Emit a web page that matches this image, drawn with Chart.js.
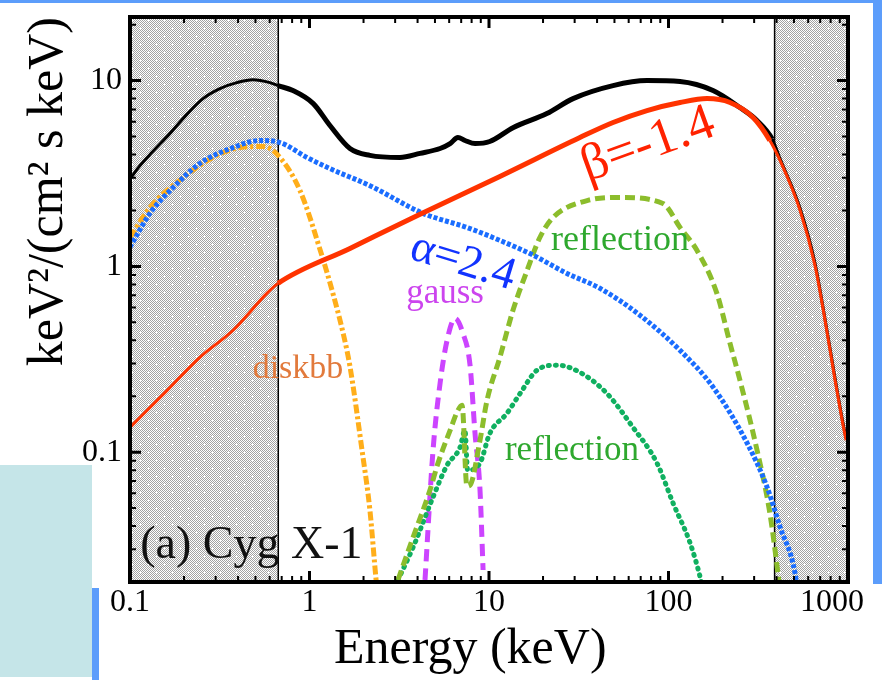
<!DOCTYPE html>
<html>
<head>
<meta charset="utf-8">
<title>Cyg X-1 spectral decomposition</title>
<script src="https://cdn.jsdelivr.net/npm/chart.js@4.4.1/dist/chart.umd.min.js"></script>
<style>
  html, body { margin: 0; padding: 0; background: #fff; }
  #spec { display: block; }
</style>
</head>
<body>
<canvas id="spec" width="882" height="680"></canvas>
<script>
// ============================
// Spectral components (energy in keV, flux in keV^2/(cm^2 s keV))
// ============================
const totalE = [0.1, 0.114, 0.134, 0.167, 0.208, 0.255, 0.317, 0.394, 0.484, 0.602, 0.668, 0.809, 1.05, 1.30, 1.68, 2.17, 3.19, 4.13, 5.34, 6.07, 6.71, 7.35, 8.36, 10.1, 13.6, 21.0, 29.4, 49.1, 75.9, 116, 177, 250, 311, 378, 418, 541, 655, 745, 847, 927, 975];
const totalF = [2.95, 3.5, 4.15, 5.2, 6.6, 8.0, 9.06, 9.75, 10.1, 9.75, 9.4, 8.84, 7.52, 5.73, 4.31, 3.96, 3.86, 4.06, 4.31, 4.58, 4.94, 4.76, 4.58, 4.70, 5.58, 6.65, 8.0, 9.4, 10.0, 9.88, 8.84, 7.16, 6.10, 4.85, 3.80, 2.05, 1.04, 0.52, 0.25, 0.152, 0.119];

const hardE = [0.1, 0.161, 0.245, 0.375, 0.579, 0.668, 1.68, 4.13, 11.5, 32.1, 49.1, 75.9, 116, 164, 220, 296, 367, 418, 541, 655, 745, 847, 927, 975];
const hardF = [0.136, 0.215, 0.324, 0.453, 0.716, 0.81, 1.25, 1.91, 3.05, 4.94, 5.95, 6.90, 7.62, 8.0, 7.62, 6.33, 4.76, 3.72, 2.00, 1.01, 0.512, 0.244, 0.149, 0.116];

const softE = [0.1, 0.129, 0.174, 0.245, 0.375, 0.530, 0.685, 0.968, 1.30, 2.17, 4.29, 7.53, 11.5, 17.6, 27.2, 41.5, 69.3, 116, 177, 274, 354, 418, 507, 530];
const softF = [1.27, 1.93, 2.66, 3.58, 4.36, 4.76, 4.64, 3.86, 3.36, 2.72, 1.93, 1.62, 1.38, 1.15, 0.916, 0.762, 0.546, 0.353, 0.224, 0.112, 0.0649, 0.0396, 0.0223, 0.016];

const diskE = [0.1, 0.129, 0.197, 0.305, 0.410, 0.551, 0.668, 0.885, 1.17, 1.35, 1.54, 1.68, 1.96, 2.17, 2.35, 2.45];
const diskF = [1.43, 2.07, 3.00, 3.96, 4.36, 4.42, 3.96, 2.56, 1.15, 0.716, 0.436, 0.29, 0.103, 0.0488, 0.0205, 0.014];

const gaussE = [4.40, 4.88, 5.34, 5.84, 6.47, 7.16, 7.84, 8.36, 8.91, 9.27];
const gaussF = [0.0205, 0.103, 0.235, 0.40, 0.525, 0.436, 0.294, 0.126, 0.0625, 0.0232];

const reflHardE = [3.11, 3.78, 4.69, 5.20, 6.07, 6.71, 7.08, 7.53, 7.84, 8.91, 9.75, 11.5, 13.6, 16.3, 19.2, 22.7, 35.2, 53.7, 93.1, 116, 144, 186, 220, 250, 311, 367, 407, 430];
const reflHardF = [0.0205, 0.0349, 0.0625, 0.0873, 0.131, 0.168, 0.179, 0.0657, 0.0665, 0.116, 0.190, 0.324, 0.580, 0.951, 1.43, 1.83, 2.26, 2.35, 2.18, 1.62, 1.22, 0.716, 0.386, 0.244, 0.103, 0.047, 0.0223, 0.014];

const reflSoftE = [3.11, 3.78, 4.88, 5.84, 6.89, 7.35, 7.6, 8.91, 10.1, 12.6, 14.9, 18.5, 23.9, 32.1, 45.4, 63.4, 86.3, 106, 132, 150, 160];
const reflSoftF = [0.0205, 0.0308, 0.0573, 0.0851, 0.106, 0.131, 0.080, 0.0873, 0.126, 0.162, 0.207, 0.276, 0.294, 0.269, 0.207, 0.136, 0.0873, 0.0532, 0.0324, 0.0213, 0.016];

// energy bands outside the fitted range (greyed)
const shadeBands = [[0.1, 0.67], [390, 1000]];

// axis ranges and labelled ticks
const xRange = [0.1, 1000];
const yRange = [0.02, 22];
const xTickValues = [0.1, 1, 10, 100, 1000];
const xTickLabels = ["0.1", "1", "10", "100", "1000"];
const yTickValues = [0.1, 1, 10];
const yTickLabels = ["0.1", "1", "10"];

// ============================
// Helpers
// ============================
const SERIF = "'Liberation Serif', 'DejaVu Serif', serif";

function toPoints(es, fs) {
    return es.map((e, i) => ({ x: e, y: fs[i] }));
}

function inShade(e) {
    return shadeBands.some(([a, b]) => e >= a && e < b);
}

function tickLabel(values, labels, v) {
    const i = values.findIndex(t => Math.abs(v - t) / t < 1e-6);
    return i < 0 ? "" : labels[i];
}

// thinner strokes inside the greyed bands
const bandWidth = (inside, outside) => ctx =>
    inShade(Math.sqrt(ctx.p0.parsed.x * ctx.p1.parsed.x)) ? inside : outside;

// text written next to the curves, placed in data coordinates
const curveLabels = [
    { text: "diskbb", e: 0.863, f: 0.25, color: "#e27a3c", size: 34 },
    { text: "gauss", e: 5.69, f: 0.632, color: "#cc44ee", size: 35 },
    { text: "α=2.4", e: 7.16, f: 1.05, color: "#1133ff", size: 46, angle: 17, baseline: "middle" },
    { text: "β=-1.4", e: 76.9, f: 4.48, color: "#ff2200", size: 52, angle: -20, baseline: "middle" },
    { text: "reflection", e: 53.7, f: 1.22, color: "#2ea82e", size: 36 },
    { text: "reflection", e: 29.0, f: 0.0906, color: "#2ea82e", size: 35 },
    { text: "(a) Cyg X-1", e: 0.114, f: 0.0269, color: "#111", size: 46, align: "left" }
];

// ============================
// Plugins: page frame, grey bands, box with inner ticks, curve labels
// ============================
const pageDecor = {
    id: "pageDecor",
    beforeDraw(chart) {
        const ctx = chart.ctx;
        ctx.save();
        ctx.fillStyle = "#fff";
        ctx.fillRect(0, 0, chart.width, chart.height);
        ctx.fillStyle = "#5c9dfb";
        ctx.fillRect(0, 0, 876, 3);
        ctx.fillRect(873, 0, 9, 584);
        ctx.fillRect(92, 588, 7, 92);
        ctx.fillStyle = "#c5e5e8";
        ctx.fillRect(0, 465, 92, 212);
        ctx.restore();
    }
};

function makeHatch() {
    const c = document.createElement("canvas");
    c.width = 16;
    c.height = 16;
    const g = c.getContext("2d");
    g.fillStyle = "#fff";
    g.fillRect(0, 0, 16, 16);
    g.fillStyle = "#a2a2a2";
    for (let y = 0; y < 16; y++) {
        for (let x = 0; x < 16; x++) {
            if ((x + y) % 2 === 0) g.fillRect(x, y, 1, 1);
        }
    }
    g.fillStyle = "#fff";
    g.fillRect(3, 4, 3, 1); g.fillRect(4, 3, 1, 3);
    g.fillRect(11, 12, 3, 1); g.fillRect(12, 11, 1, 3);
    return c;
}

const greyBands = {
    id: "greyBands",
    beforeDatasetsDraw(chart) {
        const { ctx, chartArea: a, scales: { x } } = chart;
        const pattern = ctx.createPattern(makeHatch(), "repeat");
        ctx.save();
        shadeBands.forEach(([lo, hi]) => {
            const x0 = x.getPixelForValue(lo);
            const x1 = x.getPixelForValue(hi);
            ctx.fillStyle = pattern;
            ctx.fillRect(x0, a.top, x1 - x0, a.bottom - a.top);
            ctx.strokeStyle = "#000";
            ctx.lineWidth = 1.5;
            ctx.beginPath();
            [lo, hi].forEach(v => {
                if (v > xRange[0] && v < xRange[1]) {
                    const p = x.getPixelForValue(v);
                    ctx.moveTo(p, a.top);
                    ctx.lineTo(p, a.bottom);
                }
            });
            ctx.stroke();
        });
        ctx.restore();
    }
};

function drawInnerTicks(ctx, scale, a, horizontal) {
    const lo = Math.floor(Math.log10(scale.min));
    const hi = Math.ceil(Math.log10(scale.max));
    ctx.strokeStyle = "#000";
    for (let k = lo; k <= hi; k++) {
        for (let m = 1; m <= 9; m++) {
            const v = m * Math.pow(10, k);
            if (v <= scale.min * 1.0001 || v >= scale.max * 0.9999) continue;
            const p = scale.getPixelForValue(v);
            const len = m === 1 ? 11 : 6;
            ctx.lineWidth = m === 1 ? 3 : 2;
            ctx.beginPath();
            if (horizontal) {
                ctx.moveTo(p, a.bottom); ctx.lineTo(p, a.bottom - len);
                ctx.moveTo(p, a.top); ctx.lineTo(p, a.top + len);
            } else {
                ctx.moveTo(a.left, p); ctx.lineTo(a.left + len, p);
                ctx.moveTo(a.right, p); ctx.lineTo(a.right - len, p);
            }
            ctx.stroke();
        }
    }
}

const frameTicks = {
    id: "frameTicks",
    afterDatasetsDraw(chart) {
        const { ctx, chartArea: a, scales } = chart;
        ctx.save();
        drawInnerTicks(ctx, scales.x, a, true);
        drawInnerTicks(ctx, scales.y, a, false);
        ctx.lineWidth = 4;
        ctx.strokeStyle = "#000";
        ctx.strokeRect(a.left, a.top, a.right - a.left, a.bottom - a.top);
        ctx.restore();
    }
};

const curveText = {
    id: "curveText",
    afterDatasetsDraw(chart) {
        const { ctx, scales: { x, y } } = chart;
        ctx.save();
        curveLabels.forEach(l => {
            ctx.save();
            ctx.translate(x.getPixelForValue(l.e), y.getPixelForValue(l.f));
            ctx.rotate((l.angle || 0) * Math.PI / 180);
            ctx.font = `${l.size}px ${SERIF}`;
            ctx.fillStyle = l.color;
            ctx.textAlign = l.align || "center";
            ctx.textBaseline = l.baseline || "alphabetic";
            ctx.fillText(l.text, 0, 0);
            ctx.restore();
        });
        ctx.restore();
    }
};

// ============================
// Chart
// ============================
const lineDefaults = {
    pointRadius: 0,
    fill: false,
    cubicInterpolationMode: "monotone",
    clip: 0
};

const datasets = [
    {
        ...lineDefaults, label: "power law (hard)", order: 0,
        data: toPoints(hardE, hardF),
        borderColor: "#ff3300", borderWidth: 5,
        segment: { borderWidth: bandWidth(3, 5) }
    },
    {
        ...lineDefaults, label: "total", order: 1,
        data: toPoints(totalE, totalF),
        borderColor: "#000", borderWidth: 5,
        segment: { borderWidth: bandWidth(3, 5) }
    },
    {
        ...lineDefaults, label: "power law (soft)", order: 2,
        data: toPoints(softE, softF),
        borderColor: "#1a6dff", borderWidth: 5,
        borderDash: [4, 2]
    },
    {
        ...lineDefaults, label: "reflection (hard)", order: 3,
        data: toPoints(reflHardE, reflHardF),
        borderColor: "#8cbd2c", borderWidth: 5,
        borderDash: [10, 5]
    },
    {
        ...lineDefaults, label: "reflection (soft)", order: 4,
        data: toPoints(reflSoftE, reflSoftF),
        borderColor: "#10b060", borderWidth: 5,
        borderDash: [1, 6], borderCapStyle: "round"
    },
    {
        ...lineDefaults, label: "gauss", order: 5,
        data: toPoints(gaussE, gaussF),
        borderColor: "#cc44ff", borderWidth: 5,
        borderDash: [12, 7]
    },
    {
        ...lineDefaults, label: "diskbb", order: 6,
        data: toPoints(diskE, diskF),
        borderColor: "#ffae1a", borderWidth: 5,
        borderDash: [9, 3, 3, 3]
    }
];

new Chart(document.getElementById("spec"), {
    type: "line",
    data: { datasets },
    options: {
        responsive: false,
        devicePixelRatio: 1,
        animation: false,
        layout: { padding: { top: 17, right: 34, bottom: 0, left: 0 } },
        plugins: {
            legend: { display: false },
            tooltip: { enabled: false }
        },
        scales: {
            x: {
                type: "logarithmic",
                min: xRange[0],
                max: xRange[1],
                grid: { display: false, drawTicks: false },
                border: { display: false },
                ticks: {
                    autoSkip: false,
                    maxRotation: 0,
                    minRotation: 0,
                    padding: 1,
                    color: "#000",
                    font: { family: SERIF, size: 32 },
                    callback: v => {
                        const s = tickLabel(xTickValues, xTickLabels, v);
                        // pull the last label back from the right edge by one em
                        return v >= xRange[1] * 0.9999 && s ? s + "\u2003" : s;
                    }
                },
                title: {
                    display: true,
                    text: "Energy (keV)   ",
                    color: "#000",
                    font: { family: SERIF, size: 50 },
                    padding: 0
                },
                afterFit(s) {
                    s.height = 98;
                    s.paddingLeft = 0;
                    s.paddingRight = 0;
                }
            },
            y: {
                type: "logarithmic",
                min: yRange[0],
                max: yRange[1],
                grid: { display: false, drawTicks: false },
                border: { display: false },
                ticks: {
                    autoSkip: false,
                    padding: 8,
                    color: "#000",
                    font: { family: SERIF, size: 32 },
                    callback: v => tickLabel(yTickValues, yTickLabels, v)
                },
                title: {
                    display: true,
                    text: "keV²/(cm² s keV)",
                    align: "end",
                    color: "#000",
                    font: { family: SERIF, size: 50 },
                    padding: { top: 19, bottom: 0 }
                },
                afterFit(s) {
                    s.width = 130;
                    s.paddingTop = 0;
                    s.paddingBottom = 0;
                }
            }
        }
    },
    plugins: [pageDecor, greyBands, frameTicks, curveText]
});
</script>
</body>
</html>
